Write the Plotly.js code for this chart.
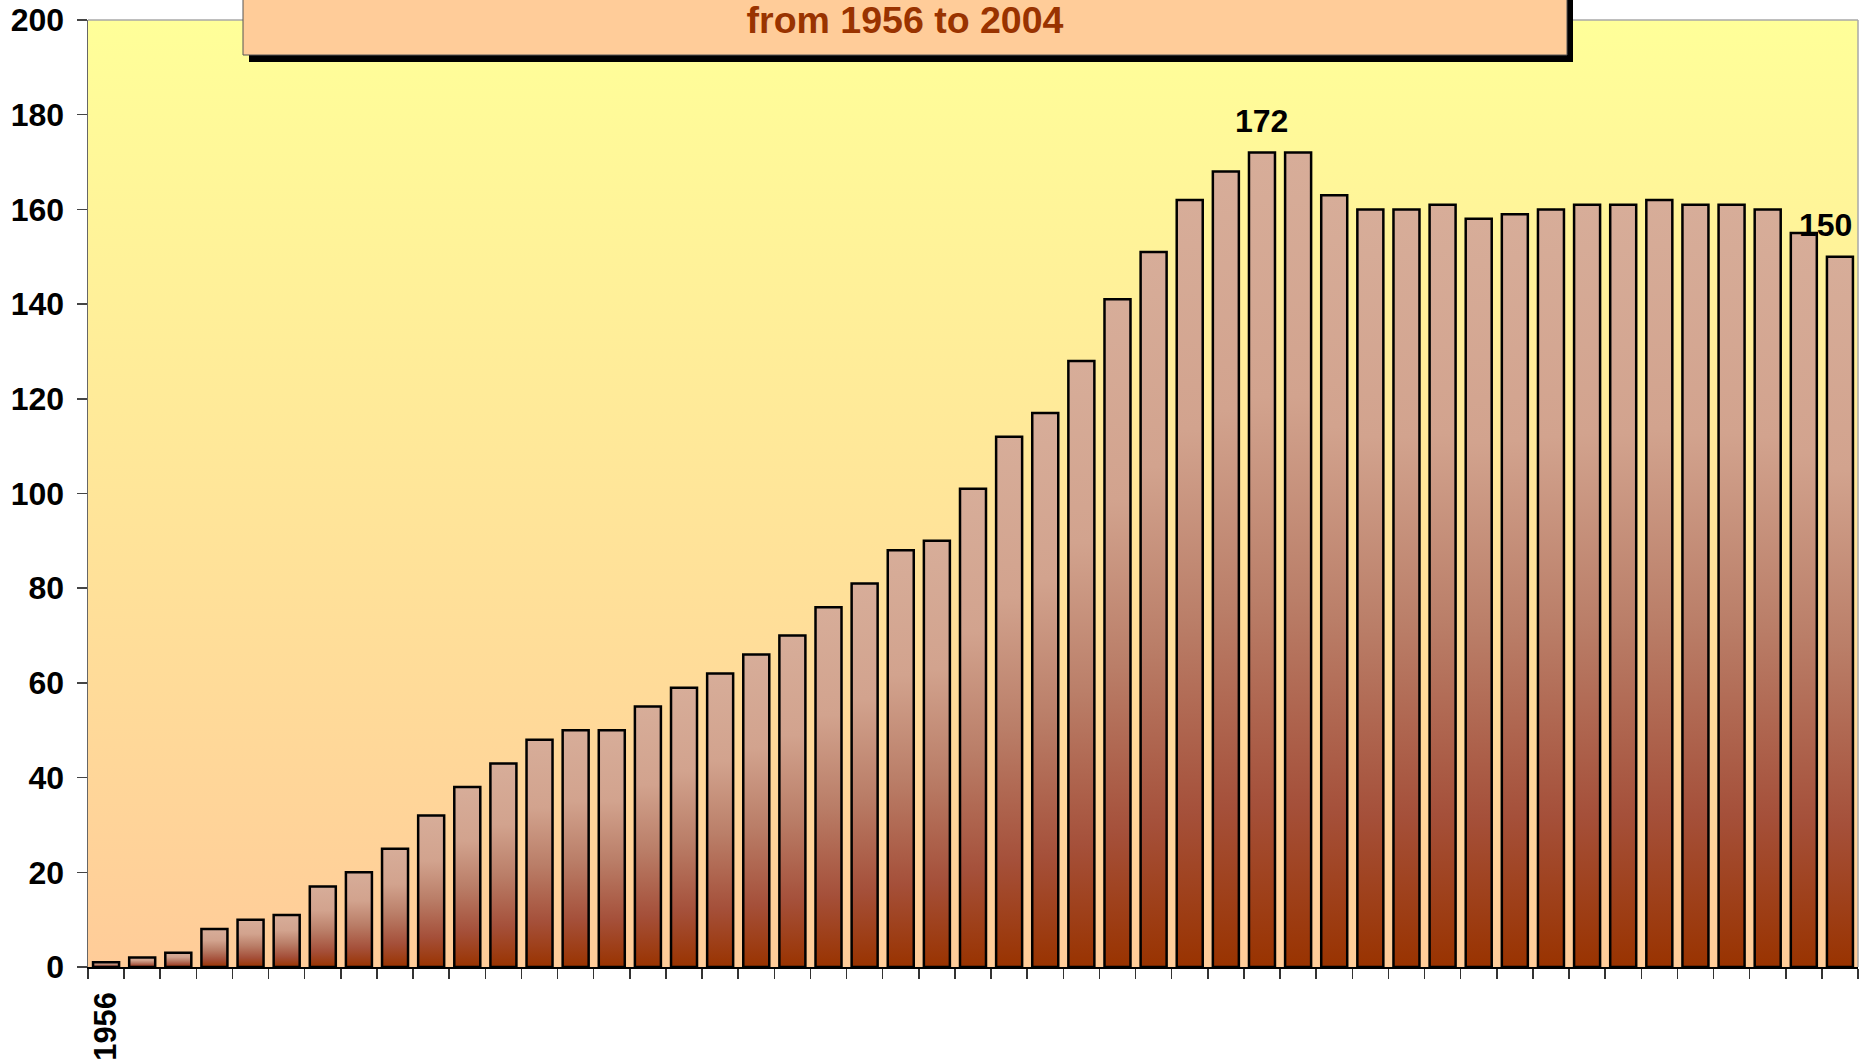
<!DOCTYPE html>
<html>
<head>
<meta charset="utf-8">
<script src="https://cdn.plot.ly/plotly-3.0.1.min.js"></script>
<style>
  html, body { margin: 0; padding: 0; background: #ffffff; }
  #chart { width: 1865px; height: 1064px; }
</style>
</head>
<body>
<div id="chart"></div>
<script>
// ---- data ----
var years = [1956,1957,1958,1959,1960,1961,1962,1963,1964,1965,1966,1967,1968,1969,1970,
             1971,1972,1973,1974,1975,1976,1977,1978,1979,1980,1981,1982,1983,1984,1985,
             1986,1987,1988,1989,1990,1991,1992,1993,1994,1995,1996,1997,1998,1999,2000,
             2001,2002,2003,2004];
var values = [1,2,3,8,10,11,17,20,25,32,38,43,48,50,50,
              55,59,62,66,70,76,81,88,90,101,112,117,128,141,151,
              162,168,172,172,163,160,160,161,158,159,160,161,161,162,161,
              161,160,155,150];
var tickLabels = ["1956"];           // only the first year is labelled
var labelledYears = [1988, 2004];    // bars carrying a value label
var titleText = "from 1956 to 2004";

// ---- build ----
var cats = years.map(String);
var ticktext = cats.map(function (c) { return tickLabels.indexOf(c) >= 0 ? c : ""; });

var FONT = "Liberation Sans, Arial, sans-serif";

var trace = {
  type: "bar",
  x: cats,
  y: values,
  marker: { color: "#C07A5C", line: { color: "#000000", width: 2.5 } },
  hoverinfo: "skip"
};

var annotations = labelledYears.map(function (yr, k) {
  var i = years.indexOf(yr);
  return {
    x: i, y: values[i], xref: "x", yref: "y",
    text: String(values[i]), showarrow: false,
    yanchor: "bottom", yshift: 12,
    xshift: (k === labelledYears.length - 1) ? -14 : 0,
    font: { family: FONT, size: 32, color: "#000000", weight: "bold" }
  };
});

var layout = {
  width: 1865, height: 1064,
  margin: { l: 88, r: 7, t: 20, b: 97, pad: 0 },
  paper_bgcolor: "#ffffff",
  plot_bgcolor: "#FFE699",
  showlegend: false,
  bargap: 0.28,
  font: { family: FONT, size: 32, color: "#000000", weight: "bold" },
  title: {
    text: "<b>" + titleText + "</b>",
    font: { family: FONT, size: 37.5, color: "#993300" },
    xref: "container", yref: "container",
    x: 905 / 1865, xanchor: "center",
    y: 1 - 20 / 1064, yanchor: "middle"
  },
  xaxis: {
    type: "category",
    range: [-0.5, years.length - 0.5], autorange: false,
    tickmode: "array", tickvals: cats, ticktext: ticktext,
    tickson: "boundaries",
    ticks: "outside", ticklen: 10, tickwidth: 1.5, tickcolor: "#333333",
    tickangle: -90,
    ticklabelstandoff: 11,
    tickfont: { family: FONT, size: 31, color: "#000000", weight: "bold" },
    showline: true, linecolor: "#000000", linewidth: 1.5,
    showgrid: false, zeroline: false, fixedrange: true
  },
  yaxis: {
    range: [0, 200], autorange: false, dtick: 20, tick0: 0,
    ticks: "outside", ticklen: 10, tickwidth: 1.5, tickcolor: "#444444",
    ticklabelstandoff: 6,
    tickfont: { family: FONT, size: 32, color: "#000000", weight: "bold" },
    showline: true, linecolor: "#666666", linewidth: 1.5,
    showgrid: false, zeroline: false, fixedrange: true
  },
  shapes: [
    { type: "line", xref: "paper", yref: "paper", x0: 0, x1: 1, y0: 1, y1: 1,
      line: { color: "#A8A8A8", width: 1.5 }, layer: "above" },
    { type: "line", xref: "paper", yref: "paper", x0: 1, x1: 1, y0: 0, y1: 1,
      line: { color: "#A8A8A8", width: 1.5 }, layer: "above" },
    { type: "rect", xref: "paper", yref: "paper",
      x0: (249 - 88) / 1770, x1: (1573 - 88) / 1770,
      y0: (967 - 62) / 947, y1: (967 + 60) / 947,
      fillcolor: "#000000", line: { width: 0 }, layer: "above" },
    { type: "rect", xref: "paper", yref: "paper",
      x0: (243 - 88) / 1770, x1: (1567 - 88) / 1770,
      y0: (967 - 55) / 947, y1: (967 + 60) / 947,
      fillcolor: "#FFCC99", line: { color: "#555555", width: 1 }, layer: "above" }
  ],
  annotations: annotations
};

var gd = document.getElementById("chart");
Plotly.newPlot(gd, [trace], layout, { staticPlot: true, displayModeBar: false }).then(function () {
  var NS = "http://www.w3.org/2000/svg";
  var svg = gd.querySelector("svg.main-svg");
  var defs = svg.querySelector("defs");
  if (!defs) { defs = document.createElementNS(NS, "defs"); svg.insertBefore(defs, svg.firstChild); }
  function addGrad(id, stops) {
    var g = document.createElementNS(NS, "linearGradient");
    g.setAttribute("id", id);
    g.setAttribute("x1", "0"); g.setAttribute("y1", "0");
    g.setAttribute("x2", "0"); g.setAttribute("y2", "1");
    stops.forEach(function (s) {
      var st = document.createElementNS(NS, "stop");
      st.setAttribute("offset", s[0]);
      st.setAttribute("stop-color", s[1]);
      g.appendChild(st);
    });
    defs.appendChild(g);
  }
  addGrad("barGrad", [[0, "#D7AD99"], [0.3, "#D2A38E"], [0.55, "#BA7E68"], [0.8, "#A5503A"], [1, "#993300"]]);
  addGrad("bgGrad", [[0, "#FFFF99"], [1, "#FFCC99"]]);
  gd.querySelectorAll(".bars .point path").forEach(function (p) { p.style.fill = "url(#barGrad)"; });
  gd.querySelectorAll(".bglayer rect.bg").forEach(function (r) { r.style.fill = "url(#bgGrad)"; });
});
</script>
</body>
</html>
